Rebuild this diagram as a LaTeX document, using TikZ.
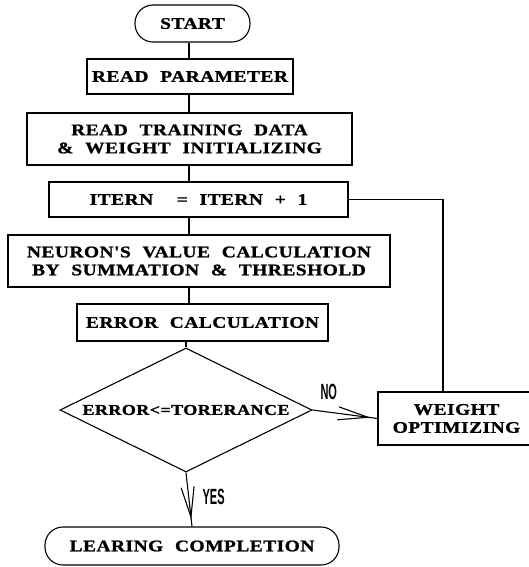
\documentclass[tikz,border=0pt]{standalone}
\usepackage{fontspec}
\newfontfamily\flowfont{Liberation Serif}[FakeStretch=1.2,LetterSpace=3,WordSpace=2.2,FakeBold=1.2]
\newfontfamily\tagfont{Liberation Sans}
\usetikzlibrary{shapes.geometric,arrows.meta,decorations.markings}

\begin{document}
\begin{tikzpicture}[x=1pt,y=-1pt,line width=1.1pt,
  box/.style={draw,inner sep=0pt,align=center,font=\flowfont\bfseries\fontsize{16.2}{18}\selectfont},
  term/.style={box,rounded corners=18pt},
  decision/.style={draw,diamond,inner sep=0pt,minimum width=252pt,minimum height=124pt},
  barb/.style={postaction={decorate},decoration={markings,
    mark=at position -7pt with {\arrow{Straight Barb[length=30pt,width=13pt]}}}},
  tag/.style={font=\tagfont\bfseries\fontsize{22}{22}\selectfont,xscale=.5}]

\useasboundingbox (0,0) rectangle (528,567);
\coordinate (spine) at (189,0);
\coordinate (loop) at (443,0);

\node[term,minimum width=115pt,minimum height=37pt] (start) at (192.5,23.5) {START};
\node[box,minimum width=206pt,minimum height=35pt] (readpar) at (190,76.5) {READ PARAMETER};
\node[box,minimum width=325pt,minimum height=52pt] (readtrain) at (189.5,139) {READ TRAINING DATA\\\& WEIGHT INITIALIZING};
\node[box,minimum width=299pt,minimum height=35pt] (itern) at (198.5,199.5) {ITERN\ \ = ITERN + 1};
\node[box,minimum width=382pt,minimum height=52pt] (neuron) at (199,261) {NEURON'S VALUE CALCULATION\\BY SUMMATION \& THRESHOLD};
\node[box,minimum width=251pt,minimum height=37pt] (errcalc) at (202.5,322.5) {ERROR CALCULATION};
\node[decision] (dec) at (186,410) {};
\node[font=\flowfont\bfseries\fontsize{15}{18}\selectfont] (dectext) at (dec) {ERROR<=TORERANCE};
\node[box,minimum width=157pt,minimum height=53pt] (weight) at (456.5,418.5) {WEIGHT\\OPTIMIZING};
\node[term,minimum width=294pt,minimum height=38pt] (learn) at (192,546) {LEARING COMPLETION};

\foreach \a/\b in {start/readpar,readpar/readtrain,readtrain/itern,itern/neuron,neuron/errcalc}
 \draw (spine |- \a.south) -- (spine |- \b.north);
\draw (dec.north |- errcalc.south) -- (dec.north);

\draw[barb] (dec.east) -- (weight.west) node (notag) [tag,pos=.25,above=9pt] {NO};
\draw[barb] (dec.south) -- (learn.north) node (yestag) [tag,pos=.45,right=24pt] {YES};
\draw (itern.east) -| (loop |- weight.north);
\end{tikzpicture}
\end{document}
